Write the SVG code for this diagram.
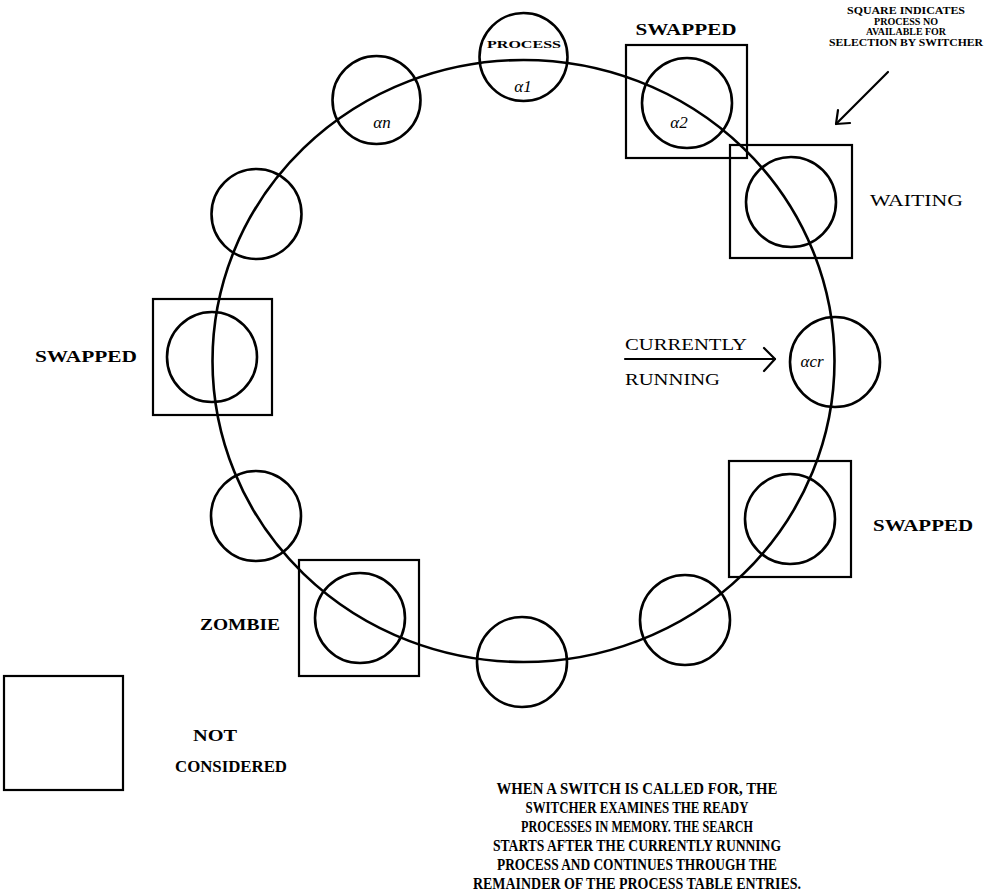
<svg xmlns="http://www.w3.org/2000/svg" width="1007" height="895" viewBox="0 0 1007 895">
  <style>
    .ring { fill: none; stroke: #000; stroke-width: 2.6; }
    .proc { fill: none; stroke: #000; stroke-width: 2.6; }
    .box { fill: none; stroke: #000; stroke-width: 2.2; }
    .lbl { font-family: "Liberation Serif", "Times New Roman", serif; font-size: 17px; fill: #000; }
    .bold { font-weight: bold; }
    .sym { font-family: "Liberation Serif", "Times New Roman", serif; font-size: 17px; font-style: italic; fill: #000; }
    .note { font-family: "Liberation Serif", "Times New Roman", serif; font-size: 11px; font-weight: bold; fill: #000; }
    .para { font-family: "Liberation Serif", "Times New Roman", serif; font-size: 16.5px; font-weight: bold; fill: #000; }
    .arrow { fill: none; stroke: #000; stroke-width: 2.2; stroke-linecap: round; stroke-linejoin: round; }
  </style>

  <!-- process table ring -->
  <g id="connectors">
    <ellipse class="ring" cx="523.5" cy="361" rx="311" ry="301"/>
    <!-- pointer from the note to a square -->
    <path class="arrow" d="M888 72 L836 124"/>
    <path class="arrow" d="M838 110 L836 124 L850 123"/>
    <!-- currently running pointer -->
    <path class="arrow" d="M625 359 L775 359"/>
    <path class="arrow" d="M764 348 L775 359 L764 371"/>
  </g>

  <!-- process slots -->
  <g id="p-a1">
    <circle class="proc" cx="523.5" cy="57" r="44"/>
    <text class="note" x="524" y="48" text-anchor="middle" font-size="14" textLength="74" lengthAdjust="spacingAndGlyphs">PROCESS</text>
    <text class="sym" x="523" y="92" text-anchor="middle">α1</text>
  </g>
  <g id="p-a2">
    <rect class="box" x="626" y="45" width="121" height="113"/>
    <circle class="proc" cx="687" cy="103" r="45"/>
    <text class="sym" x="679" y="128" text-anchor="middle">α2</text>
    <text class="lbl bold" x="686" y="35" text-anchor="middle" textLength="101" lengthAdjust="spacingAndGlyphs">SWAPPED</text>
  </g>
  <g id="p-waiting">
    <rect class="box" x="730" y="145" width="122" height="113"/>
    <circle class="proc" cx="791" cy="202" r="45"/>
    <text class="lbl" x="870" y="206" textLength="93" lengthAdjust="spacingAndGlyphs">WAITING</text>
  </g>
  <g id="p-acr">
    <circle class="proc" cx="835" cy="362" r="45"/>
    <text class="sym" x="812" y="367" text-anchor="middle">αcr</text>
    <text class="lbl" x="625" y="350" textLength="122" lengthAdjust="spacingAndGlyphs">CURRENTLY</text>
    <text class="lbl" x="625" y="385" textLength="95" lengthAdjust="spacingAndGlyphs">RUNNING</text>
  </g>
  <g id="p-swapped-right">
    <rect class="box" x="729" y="461" width="122" height="116"/>
    <circle class="proc" cx="790" cy="519" r="45"/>
    <text class="lbl bold" x="873" y="531" textLength="100" lengthAdjust="spacingAndGlyphs">SWAPPED</text>
  </g>
  <g id="p-lower-right">
    <circle class="proc" cx="685" cy="620" r="45"/>
  </g>
  <g id="p-bottom">
    <circle class="proc" cx="522" cy="662" r="45"/>
  </g>
  <g id="p-zombie">
    <rect class="box" x="299" y="560" width="120" height="116"/>
    <circle class="proc" cx="360" cy="618" r="45"/>
    <text class="lbl bold" x="200" y="630" textLength="80" lengthAdjust="spacingAndGlyphs">ZOMBIE</text>
  </g>
  <g id="p-lower-left">
    <circle class="proc" cx="256" cy="516" r="45"/>
  </g>
  <g id="p-swapped-left">
    <rect class="box" x="153" y="299" width="119" height="116"/>
    <circle class="proc" cx="212" cy="357" r="45"/>
    <text class="lbl bold" x="35" y="362" textLength="102" lengthAdjust="spacingAndGlyphs">SWAPPED</text>
  </g>
  <g id="p-upper-left">
    <circle class="proc" cx="256.5" cy="214" r="45"/>
  </g>
  <g id="p-an">
    <circle class="proc" cx="376.5" cy="100" r="44"/>
    <text class="sym" x="382" y="128" text-anchor="middle">αn</text>
  </g>

  <!-- legend -->
  <g id="legend-not-considered">
    <rect class="box" x="4" y="676" width="119" height="114"/>
    <text class="lbl bold" x="215" y="741" text-anchor="middle" textLength="44" lengthAdjust="spacingAndGlyphs">NOT</text>
    <text class="lbl bold" x="231" y="772" text-anchor="middle" textLength="112" lengthAdjust="spacingAndGlyphs">CONSIDERED</text>
  </g>

  <g id="note-square">
    <text class="note" x="906" y="14" text-anchor="middle" textLength="118" lengthAdjust="spacingAndGlyphs">SQUARE INDICATES</text>
    <text class="note" x="906" y="24.5" text-anchor="middle" textLength="64" lengthAdjust="spacingAndGlyphs">PROCESS NO</text>
    <text class="note" x="906" y="35" text-anchor="middle" textLength="80" lengthAdjust="spacingAndGlyphs">AVAILABLE FOR</text>
    <text class="note" x="906" y="45.5" text-anchor="middle" textLength="154" lengthAdjust="spacingAndGlyphs">SELECTION BY SWITCHER</text>
  </g>

  <g id="note-switch">
    <text class="para" x="637" y="794" text-anchor="middle" textLength="281" lengthAdjust="spacingAndGlyphs">WHEN A SWITCH IS CALLED FOR, THE</text>
    <text class="para" x="637" y="813" text-anchor="middle" textLength="223" lengthAdjust="spacingAndGlyphs">SWITCHER EXAMINES THE READY</text>
    <text class="para" x="637" y="832" text-anchor="middle" textLength="232" lengthAdjust="spacingAndGlyphs">PROCESSES IN MEMORY. THE SEARCH</text>
    <text class="para" x="637" y="851" text-anchor="middle" textLength="288" lengthAdjust="spacingAndGlyphs">STARTS AFTER THE CURRENTLY RUNNING</text>
    <text class="para" x="637" y="870" text-anchor="middle" textLength="280" lengthAdjust="spacingAndGlyphs">PROCESS AND CONTINUES THROUGH THE</text>
    <text class="para" x="637" y="889" text-anchor="middle" textLength="328" lengthAdjust="spacingAndGlyphs">REMAINDER OF THE PROCESS TABLE ENTRIES.</text>
  </g>
</svg>
